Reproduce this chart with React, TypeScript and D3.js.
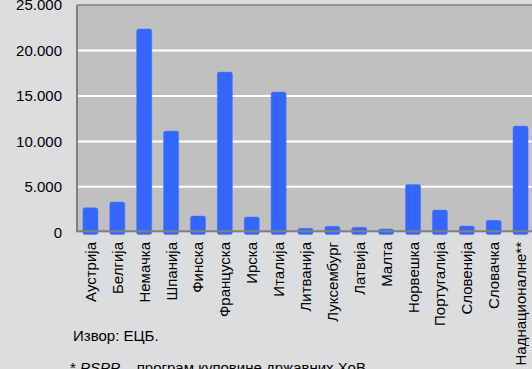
import React from "react";
import * as d3 from "d3";

const categories = [
  "Аустрија", "Белгија", "Немачка", "Шпанија", "Финска", "Француска", "Ирска", "Италија",
  "Литванија", "Луксембург", "Латвија", "Малта", "Норвешка", "Португалија", "Словенија",
  "Словачка", "Наднационалне**",
];
const values = [
  2700, 3330, 22370, 11130, 1790, 17620, 1680, 15420, 440, 660, 550, 360, 5270, 2450, 690, 1320, 11680,
];
const yTicks = [0, 5000, 10000, 15000, 20000, 25000];
const sourceText = "Извор: ЕЦБ.";

const W = 532, H = 369;
const left = 77, right = 534, top = 5, bottom = 232.3;
const font = "'Liberation Sans', Arial, sans-serif";

export default function App() {
  const x = d3.scaleBand<string>().domain(categories).range([left, right]).paddingInner(0.44).paddingOuter(0.22);
  const y = d3.scaleLinear().domain([0, 25000]).range([bottom, top]);
  const fmt = (v: number) => d3.format(",")(v).replace(/,/g, ".");
  return (
    <svg width={W} height={H} style={{ position: "absolute", left: 0, top: 0, background: "#DCDDDF" }}>
      <rect x={0} y={0} width={W} height={H} fill="#DCDDDF" />
      <rect x={left} y={top} width={right - left} height={bottom - top} fill="#C0C0C0" />
      {yTicks.filter(t => t > 0 && t < 25000).map(t => (
        <line key={t} x1={left} x2={right} y1={y(t)} y2={y(t)} stroke="#FFFFFF" strokeWidth={2} />
      ))}
      <line x1={left} x2={right} y1={top} y2={top} stroke="#808080" strokeWidth={1.5} />
      {categories.map((c, i) => (
        <rect key={c} x={x(c)} y={y(values[i])} width={x.bandwidth()} height={bottom - y(values[i]) + 2.3}
          rx={2} ry={2} fill="#3366FF" stroke="#4A78F0" strokeWidth={0.5} />
      ))}
      <line x1={left} x2={right} y1={bottom - 1} y2={bottom - 1} stroke="#808080" strokeWidth={2} />
      <line x1={left} x2={left} y1={top} y2={bottom} stroke="#808080" strokeWidth={2} />
      {yTicks.map(t => (
        <text key={t} x={62} y={y(t)} dy="0.35em" textAnchor="end" fontFamily={font} fontSize={15} fill="#000">
          {fmt(t)}
        </text>
      ))}
      {categories.map(c => {
        const cx = (x(c) as number) + x.bandwidth() / 2;
        return (
          <text key={c} transform={`translate(${cx + 5.5},242) rotate(-90)`} textAnchor="end"
            fontFamily={font} fontSize={15} fill="#000">{c}</text>
        );
      })}
      <text x={73} y={341} fontFamily={font} fontSize={15} fill="#000">{sourceText}</text>
      <text x={70} y={373} fontFamily={font} fontSize={15} fill="#000">
        {"* "}<tspan fontStyle="italic">PSPP</tspan>{" – програм куповине државних ХоВ."}
      </text>
    </svg>
  );
}
